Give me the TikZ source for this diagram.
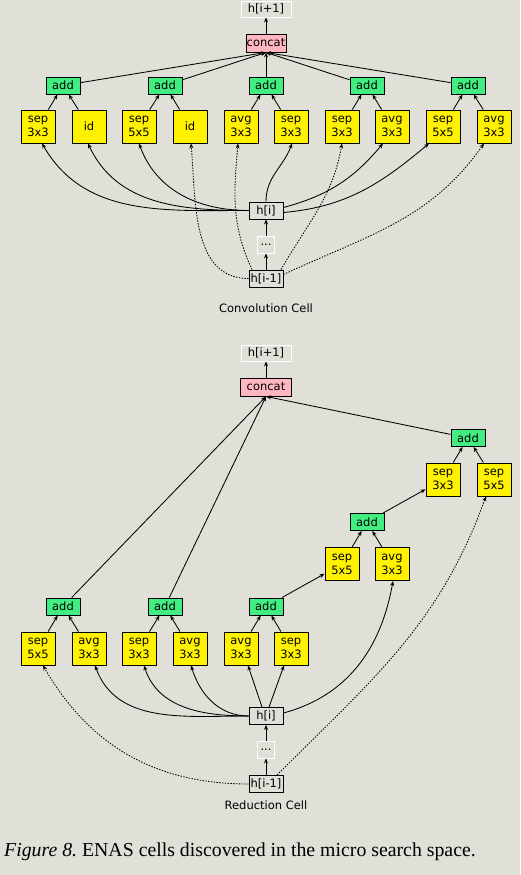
\documentclass[tikz,border=0pt]{standalone}
\usepackage{fontspec}
\setmainfont{Liberation Serif}
\newfontfamily\nodefont{DejaVu Sans}
\usetikzlibrary{arrows.meta}
\definecolor{bg}{RGB}{224,224,216}
\definecolor{addgreen}{RGB}{66,238,130}
\definecolor{catpink}{RGB}{255,182,193}
\begin{document}
\begin{tikzpicture}[x=1pt, y=1pt,
    box/.style={draw, line width=0.9pt, inner sep=0pt, font=\nodefont\fontsize{11.5}{14}\selectfont},
    addbox/.style={box, fill=addgreen, minimum width=34pt, minimum height=17pt},
    opbox/.style={box, fill=yellow, minimum width=34pt, minimum height=33pt, align=center},
    statebox/.style={box, fill=bg, minimum width=34pt, minimum height=17pt},
    catbox/.style={box, fill=catpink, minimum height=18pt},
    outbox/.style={box, draw=white, fill=bg, minimum width=50pt, minimum height=16pt},
    dotsbox/.style={box, draw=white, fill=bg, minimum width=17pt, minimum height=17pt},
    label/.style={font=\nodefont\fontsize{11.5}{14}\selectfont},
    arr/.style={-{Stealth[length=5pt,width=4pt]}, line width=0.85pt},
    dotarr/.style={arr, dash pattern=on 1.4pt off 1.4pt}]
  \fill[bg] (0,0) rectangle (520,875);
  \useasboundingbox (0,0) rectangle (520,875);

  % Nodes: convolution cell
  \node[outbox] at (266, 866) (hnext1) {h[i+1]};
  \node[catbox, minimum width=40pt] at (266, 832) (concat1) {concat};
  \node[addbox] at (63, 789.5) (ca1) {add};
  \node[addbox] at (165, 789.5) (ca2) {add};
  \node[addbox] at (266, 789.5) (ca3) {add};
  \node[addbox] at (367, 789.5) (ca4) {add};
  \node[addbox] at (468, 789.5) (ca5) {add};
  \node[opbox] at (38, 748.5) (c1) {sep\\3x3};
  \node[opbox] at (89, 748.5) (c2) {id};
  \node[opbox] at (139, 748.5) (c3) {sep\\5x5};
  \node[opbox] at (190, 748.5) (c4) {id};
  \node[opbox] at (241, 748.5) (c5) {avg\\3x3};
  \node[opbox] at (291, 748.5) (c6) {sep\\3x3};
  \node[opbox] at (342, 748.5) (c7) {sep\\3x3};
  \node[opbox] at (392, 748.5) (c8) {avg\\3x3};
  \node[opbox] at (443, 748.5) (c9) {sep\\5x5};
  \node[opbox] at (494, 748.5) (c10) {avg\\3x3};
  \node[statebox] at (266, 664.5) (hi1) {h[i]};
  \node[dotsbox] at (266, 630.5) (dots1) {...};
  \node[statebox] at (266, 596.5) (hprev1) {h[i-1]};
  \node[label] at (266, 567) (conv) {Convolution Cell};

  \draw[arr] (concat1) edge (hnext1);
  \foreach \a in {ca1, ca2, ca3, ca4, ca5}
    \draw[arr] (\a) -- (concat1.south);
  \draw[arr] (c1) edge (ca1) (c2) edge (ca1);
  \draw[arr] (c3) edge (ca2) (c4) edge (ca2);
  \draw[arr] (c5) edge (ca3) (c6) edge (ca3);
  \draw[arr] (c7) edge (ca4) (c8) edge (ca4);
  \draw[arr] (c9) edge (ca5) (c10) edge (ca5);
  \draw[arr] (hprev1) edge (dots1) (dots1) edge (hi1);

  \draw[arr] (hi1.west) to[out=180, in=-60] ([xshift=4pt]c1.south);
  \draw[arr] (hi1.west) to[out=180, in=-65] ([xshift=-1pt]c2.south);
  \draw[arr] (hi1.west) to[out=180, in=-70] (c3.south);
  \draw[arr] (hi1.north) to[out=90, in=-110] ([xshift=1pt]c6.south);
  \draw[arr] ([yshift=3pt]hi1.east) to[out=15, in=-130] ([xshift=-9pt]c8.south);
  \draw[arr] ([yshift=-2pt]hi1.east) to[out=5, in=-140] ([xshift=-14pt]c9.south);
  \draw[dotarr] (hprev1.west) to[out=180, in=-85] ([xshift=1pt]c4.south);
  \draw[dotarr] ([xshift=-14pt]hprev1.north) to[out=115, in=-95] ([xshift=-3pt]c5.south);
  \draw[dotarr] ([xshift=15pt]hprev1.north) to[out=60, in=-100] (c7.south);
  \draw[dotarr] ([yshift=4pt]hprev1.east) to[out=25, in=-125] ([xshift=-10pt]c10.south);

  % Nodes: reduction cell
  \node[outbox] at (266, 522) (hnext2) {h[i+1]};
  \node[catbox, minimum width=51pt] at (266, 488) (concat2) {concat};
  \node[addbox] at (468, 437) (radd5) {add};
  \node[opbox] at (443, 395.5) (rs3) {sep\\3x3};
  \node[opbox] at (494, 395.5) (rs4) {sep\\5x5};
  \node[addbox] at (367, 353) (radd4) {add};
  \node[opbox] at (342, 311) (rs1) {sep\\5x5};
  \node[opbox] at (392, 311) (rs2) {avg\\3x3};
  \node[addbox] at (63, 268.5) (radd1) {add};
  \node[addbox] at (165, 268.5) (radd2) {add};
  \node[addbox] at (266, 268.5) (radd3) {add};
  \node[opbox] at (38, 226.5) (r1) {sep\\5x5};
  \node[opbox] at (89, 226.5) (r2) {avg\\3x3};
  \node[opbox] at (139, 226.5) (r3) {sep\\3x3};
  \node[opbox] at (190, 226.5) (r4) {avg\\3x3};
  \node[opbox] at (241, 226.5) (r5) {avg\\3x3};
  \node[opbox] at (291, 226.5) (r6) {sep\\3x3};
  \node[statebox] at (266, 159) (hi2) {h[i]};
  \node[dotsbox] at (266, 125.5) (dots2) {...};
  \node[statebox] at (266, 91) (hprev2) {h[i-1]};
  \node[label] at (266, 70) (red) {Reduction Cell};

  \draw[arr] (concat2) edge (hnext2);
  \foreach \a in {radd1, radd2, radd5}
    \draw[arr] (\a) -- (concat2.south);
  \draw[arr] (rs3) edge (radd5) (rs4) edge (radd5);
  \draw[arr] (radd4) edge (rs3);
  \draw[arr] (rs1) edge (radd4) (rs2) edge (radd4);
  \draw[arr] (radd3) edge (rs1);
  \draw[arr] (r1) edge (radd1) (r2) edge (radd1);
  \draw[arr] (r3) edge (radd2) (r4) edge (radd2);
  \draw[arr] (r5) edge (radd3) (r6) edge (radd3);
  \draw[arr] (hprev2) edge (dots2) (dots2) edge (hi2);

  \draw[arr] (hi2.west) to[out=180, in=-70] ([xshift=6pt]r2.south);
  \draw[arr] (hi2.west) to[out=180, in=-72] ([xshift=5pt]r3.south);
  \draw[arr] (hi2.west) to[out=180, in=-73] ([xshift=1pt]r4.south);
  \draw[arr] ([xshift=-4pt]hi2.north) -- ([xshift=7pt]r5.south);
  \draw[arr] ([xshift=3pt]hi2.north) -- ([xshift=-7pt]r6.south);
  \draw[arr] ([yshift=3pt]hi2.east) to[out=15, in=-100] ([xshift=1pt]rs2.south);
  \draw[dotarr] (hprev2.west) to[out=180, in=-60] ([xshift=5pt]r1.south);
  \draw[dotarr] ([xshift=11pt]hprev2.north) to[out=45, in=-110] ([xshift=-8pt]rs4.south);

  % Caption
  \node[anchor=base west, inner sep=0pt, font=\fontsize{19.8}{22}\selectfont] at (4, 18) (caption) {\frenchspacing\textit{Figure 8.} ENAS cells discovered in the micro search space.};
\end{tikzpicture}
\end{document}
